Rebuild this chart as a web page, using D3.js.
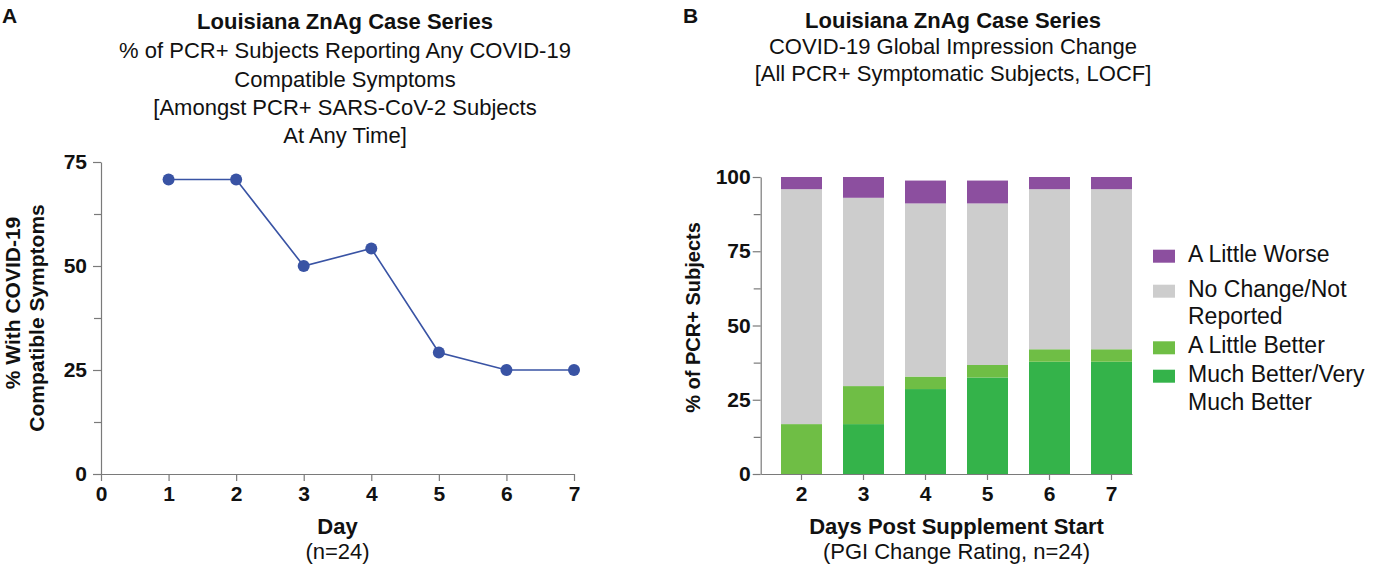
<!DOCTYPE html>
<html>
<head>
<meta charset="utf-8">
<script src="https://cdn.jsdelivr.net/npm/d3@7"></script>
<style>
  html, body { margin: 0; padding: 0; background: #ffffff; }
  svg { display: block; font-family: "Liberation Sans", Arial, Helvetica, sans-serif; }
  .axis path, .axis line { stroke: #7a7a7a; stroke-width: 1.2; }
  .axis text { font-size: 21px; font-weight: bold; fill: #111; font-family: "Liberation Sans", Arial, sans-serif; }
</style>
</head>
<body>
<svg id="chart" width="1377" height="573"></svg>
<script>
// ---------------- Data ----------------
// Panel A: % with COVID-19 compatible symptoms by day
const symptomDays = [1, 2, 3, 4, 5, 6, 7];
const symptomPct = [70.8, 70.8, 50.0, 54.2, 29.2, 25.0, 25.0];
const dayTicks = [0, 1, 2, 3, 4, 5, 6, 7];
const pctTicksA = [0, 25, 50, 75];
const minorTicksA = [12.5, 37.5, 62.5];

// Panel B: PGI change rating, stacked %
const pgiDays = ["2", "3", "4", "5", "6", "7"];
const muchBetter   = [0.0, 16.8, 28.6, 32.5, 37.8, 37.8];
const littleBetter = [16.8, 12.8, 4.2, 4.2, 4.2, 4.2];
const noChange     = [79.1, 63.4, 58.3, 54.4, 53.9, 53.9];
const littleWorse  = [4.1, 7.0, 7.7, 7.7, 4.1, 4.1];
const seriesNames = ["Much Better/Very Much Better", "A Little Better", "No Change/Not Reported", "A Little Worse"];
const pctTicksB = [0, 25, 50, 75, 100];
const minorTicksB = [12.5, 37.5, 62.5, 87.5];

// ---------------- Setup ----------------
const svg = d3.select("#chart");
const FONT = "'Liberation Sans', Arial, Helvetica, sans-serif";

function txt(x, y, s, opts = {}) {
  const t = svg.append("text")
    .attr("x", x).attr("y", y)
    .attr("text-anchor", opts.anchor || "middle")
    .attr("font-family", FONT)
    .attr("font-size", (opts.size || 22) + "px")
    .attr("font-weight", opts.bold ? "bold" : "normal")
    .attr("fill", "#111")
    .text(s);
  if (opts.rotate) t.attr("transform", `rotate(-90, ${x}, ${y})`);
  return t;
}

// Panel labels
txt(2, 23, "A", { anchor: "start", bold: true, size: 21 });
txt(683, 23, "B", { anchor: "start", bold: true, size: 21 });

// ---------------- Panel A ----------------
const xA = d3.scaleLinear().domain([0, 7]).range([101, 574]);
const yA = d3.scaleLinear().domain([0, 75]).range([474, 162]);

const titleA = ["Louisiana ZnAg Case Series",
  "% of PCR+ Subjects Reporting Any COVID-19",
  "Compatible Symptoms",
  "[Amongst PCR+ SARS-CoV-2 Subjects",
  "At Any Time]"];
const titleAy = [29, 58, 87, 115, 143];
titleA.forEach((s, i) => txt(345, titleAy[i], s, { bold: i === 0, size: 22 }));

// y axis minor
svg.append("g").attr("class", "axis").attr("transform", "translate(101,0)")
  .call(d3.axisLeft(yA).tickValues(minorTicksA).tickSize(7).tickFormat(""))
  .call(g => g.select(".domain").remove());
// y axis major
svg.append("g").attr("class", "axis").attr("transform", "translate(101,0)")
  .call(d3.axisLeft(yA).tickValues(pctTicksA).tickSize(8).tickPadding(6).tickSizeOuter(0));
// x axis
svg.append("g").attr("class", "axis").attr("transform", "translate(0,474)")
  .call(d3.axisBottom(xA).tickValues(dayTicks).tickFormat(d3.format("d"))
    .tickSize(7).tickPadding(5).tickSizeOuter(0));

// line
const lineA = d3.line().x((d, i) => xA(symptomDays[i])).y(d => yA(d));
svg.append("path").datum(symptomPct)
  .attr("d", lineA).attr("fill", "none")
  .attr("stroke", "#3953a4").attr("stroke-width", 1.6);
svg.selectAll("circle.pt").data(symptomPct).enter().append("circle")
  .attr("class", "pt")
  .attr("cx", (d, i) => xA(symptomDays[i])).attr("cy", d => yA(d))
  .attr("r", 6).attr("fill", "#3953a4");

// axis titles
txt(19.5, 303, "% With COVID-19", { bold: true, size: 21, rotate: true });
txt(43.5, 318, "Compatible Symptoms", { bold: true, size: 21, rotate: true });
txt(337.5, 534, "Day", { bold: true, size: 22 });
txt(337.5, 559, "(n=24)", { size: 22 });

// ---------------- Panel B ----------------
const xB = d3.scaleBand().domain(pgiDays).range([760.7, 1132])
  .paddingInner(0.3387).paddingOuter(0.1637).align(1);
const yB = d3.scaleLinear().domain([0, 100]).range([474, 177]);

const titleB = ["Louisiana ZnAg Case Series",
  "COVID-19 Global Impression Change",
  "[All PCR+ Symptomatic Subjects, LOCF]"];
const titleBy = [27.5, 54, 80.5];
titleB.forEach((s, i) => txt(953, titleBy[i], s, { bold: i === 0, size: 22 }));

const colors = ["#34b34a", "#6fbe45", "#cdcdcd", "#8c4f9f"];
const rows = pgiDays.map((d, i) => ({
  day: d, s0: muchBetter[i], s1: littleBetter[i], s2: noChange[i], s3: littleWorse[i]
}));
const stack = d3.stack().keys(["s0", "s1", "s2", "s3"]);
const stacked = stack(rows);

svg.append("g").selectAll("g").data(stacked).enter().append("g")
  .attr("fill", (d, i) => colors[i])
  .selectAll("rect").data(d => d).enter().append("rect")
  .attr("x", d => xB(d.data.day))
  .attr("width", xB.bandwidth())
  .attr("y", d => yB(d[1]))
  .attr("height", d => Math.max(0, yB(d[0]) - yB(d[1])));

// axes
svg.append("g").attr("class", "axis").attr("transform", "translate(760.7,0)")
  .call(d3.axisLeft(yB).tickValues(minorTicksB).tickSize(7).tickFormat(""))
  .call(g => g.select(".domain").remove());
svg.append("g").attr("class", "axis").attr("transform", "translate(760.7,0)")
  .call(d3.axisLeft(yB).tickValues(pctTicksB).tickSize(8).tickPadding(2).tickSizeOuter(0));
svg.append("g").attr("class", "axis").attr("transform", "translate(0,474)")
  .call(d3.axisBottom(xB).tickSize(6).tickPadding(6).tickSizeOuter(0));

txt(700, 317.5, "% of PCR+ Subjects", { bold: true, size: 20, rotate: true });
txt(956.5, 534, "Days Post Supplement Start", { bold: true, size: 22 });
txt(956.5, 559, "(PGI Change Rating, n=24)", { size: 22 });

// legend (top to bottom: worse ... much better)
const legendItems = [
  { c: colors[3], lines: ["A Little Worse"], y: [261.7] },
  { c: colors[2], lines: ["No Change/Not", "Reported"], y: [296.7, 324.3] },
  { c: colors[1], lines: ["A Little Better"], y: [353.3] },
  { c: colors[0], lines: ["Much Better/Very", "Much Better"], y: [381.7, 410] }
];
legendItems.forEach(it => {
  svg.append("rect").attr("x", 1153).attr("y", it.y[0] - 12)
    .attr("width", 22).attr("height", 13).attr("fill", it.c);
  it.lines.forEach((s, j) => txt(1188, it.y[j], s, { anchor: "start", size: 23 }));
});
</script>
</body>
</html>
